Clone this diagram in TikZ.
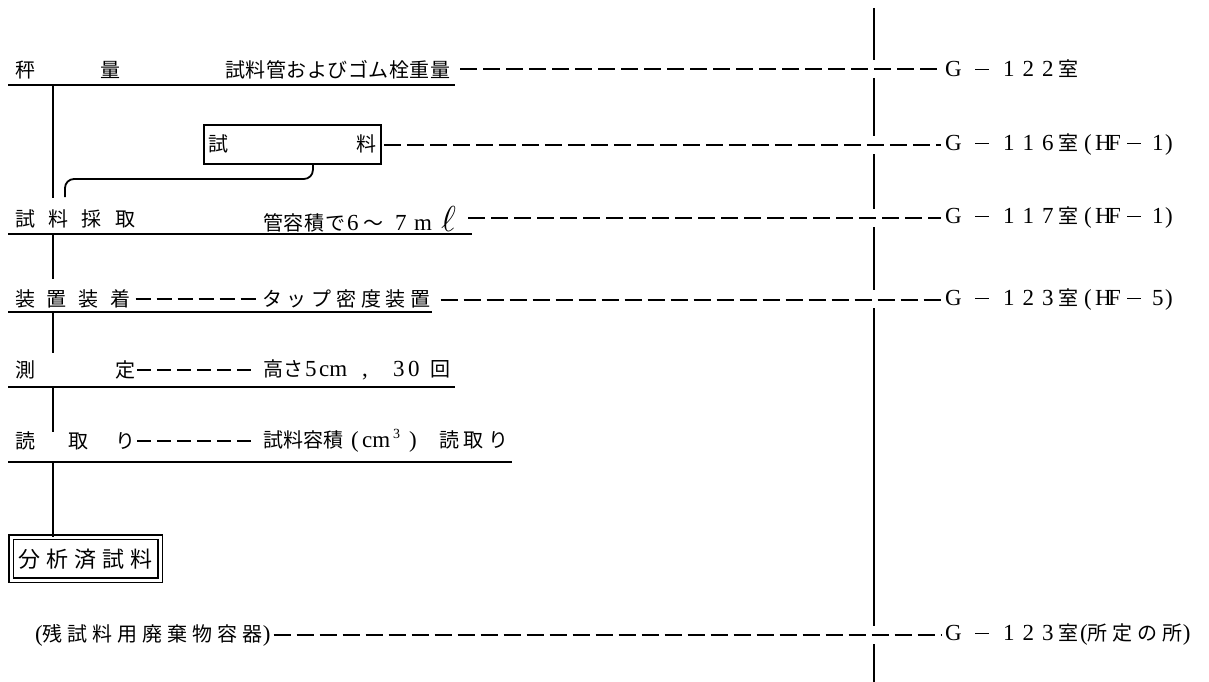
\documentclass[tikz,border=0pt]{standalone}
\usepackage{fontspec}
\usepackage{graphicx}
\setmainfont{Liberation Serif}
\newfontfamily\jp{Noto Sans CJK JP}
\newcommand\cell[2]{\makebox[#1pt][l]{#2}}
\newcommand\lat[1]{{\rmfamily\fontsize{23}{26}\selectfont #1}}
\newcommand\mrule{\rule[6.5pt]{14pt}{1.6pt}}
\makeatletter
\def\spc@loop#1{\ifx#1\relax\else\hspace{\spc@amt}#1\expandafter\spc@loop\fi}
\def\spc@first#1{#1\spc@loop}
\newcommand\spaced[2]{\def\spc@amt{#1}\spc@first#2\relax}
\makeatother
\newcommand\room[3]{\lat{\cell{30}{G}\cell{28}{\mrule}\cell{19.5}{#1}\cell{19.5}{#2}\cell{16}{#3}}室}
\newcommand\hf[1]{\hspace{6pt}\lat{\cell{11}{(}\cell{13}{H}\cell{19}{F}\cell{25}{\mrule}\cell{13}{#1})}}
\tikzset{
  txt/.style={anchor=west, inner sep=0pt, font=\jp\fontsize{20}{24}\selectfont},
  ln/.style={line width=1.8pt},
  dsh/.style={line width=2pt, dash pattern=on 17pt off 6pt},
  thickdsh/.style={line width=2.8pt, dash pattern=on 15pt off 6pt},
  thindsh/.style={line width=1.5pt, dash pattern=on 14pt off 6pt},
}
\begin{document}
\begin{tikzpicture}[x=1pt,y=-1pt]
\useasboundingbox (0,0) rectangle (1209,682);
% row 1
\node[txt] (t1l) at (15,70) {\cell{85}{秤}量};
\node[txt] (t1r) at (225,70) {\spaced{0.5pt}{試料管およびゴム栓重量}};
\node[txt] (r1) at (945,69) {\room{1}{2}{2}};
\draw[ln] (8,85) -- (455,85);
\draw[dsh, shorten <=10pt, shorten >=4pt] (t1r.east |- r1.west) -- (r1.west);
% sample box
\node[draw, line width=1.8pt, minimum width=177pt, minimum height=39pt, inner sep=0pt,
      anchor=north west, font=\jp\fontsize{20}{24}\selectfont] (box1) at (203,124) {\cell{148}{試}料};
\node[txt] (r2) at (945,145) {\room{1}{1}{6}\hf{1}};
\draw[dsh, shorten <=2pt, shorten >=4pt] (box1.east |- r2.west) -- (r2.west);
\coordinate (c1) at ([xshift=20.5pt]box1.south);
\coordinate (c2) at (65,179);
\coordinate (c3) at (65,197);
\draw[ln, rounded corners=9pt] (c1) |- (c2) -- (c3);
% row 2
\node[txt] (t2l) at (15,219) {\spaced{13.3pt}{試料採取}};
\node[txt] (t2r) at (263,219) {\cell{20.5}{管}\cell{20.5}{容}\cell{21}{積}\cell{22}{で}\lat{\cell{16}{6}}\cell{32}{～}\lat{\cell{19}{7}\cell{27}{m}\raisebox{-1pt}{\scalebox{1.45}{$\ell$}}}};
\node[txt] (r3) at (945,218) {\room{1}{1}{7}\hf{1}};
\draw[ln] (8,234) -- (472,234);
\draw[dsh, shorten <=12pt, shorten >=4pt] (t2r.east |- r3.west) -- (r3.west);
% row 3
\node[txt] (t3l) at (15,299) {\spaced{11.7pt}{装置装着}};
\node[txt] (t3r) at (262,299) {\spaced{4.7pt}{タップ密度装置}};
\node[txt] (r4) at (945,300) {\room{1}{2}{3}\hf{5}};
\draw[ln] (8,312) -- (432,312);
\draw[thickdsh, shorten <=5pt, shorten >=4pt] (t3l.east) -- (t3r.west);
\draw[dsh, shorten <=10pt, shorten >=4pt] (t3r.east |- r4.west) -- (r4.west);
% row 4
\node[txt] (t4l) at (15,370) {\cell{100}{測}定};
\node[txt] (t4r) at (263,370) {\cell{20}{高}\cell{22}{さ}\lat{\cell{14}{5}\cell{43}{cm}\cell{31}{,}\cell{15}{3}\cell{22}{0}}回};
\draw[ln] (8,387) -- (455,387);
\draw[thindsh, shorten <=2pt, shorten >=7pt] (t4l.east) -- (t4r.west);
% row 5
\node[txt] (t5l) at (15,441) {\cell{53}{読}\cell{47}{取}り};
\node[txt] (t5r) at (263,441) {\cell{20}{試}\cell{20}{料}\cell{20}{容}\cell{28}{積}\lat{\cell{11}{(}\cell{31}{cm}\cell{16}{\raisebox{9pt}{\fontsize{14}{14}\selectfont 3}}\cell{30}{)}}\cell{24}{読}\cell{25}{取}り};
\draw[ln] (8,462) -- (512,462);
\draw[thindsh, shorten <=2pt, shorten >=7pt] (t5l.east) -- (t5r.west);
% final box
\node[draw, line width=1.6pt, double, double distance=2.5pt, minimum width=149pt, minimum height=43pt,
      inner sep=0pt, anchor=north west, font=\jp\fontsize{22}{24}\selectfont] (box2) at (10.5,536.5) {\spaced{6pt}{分析済試料}};
% row 6
\node[txt] (t6) at (35,635) {\lat{(}\spaced{5pt}{残試料用廃棄物容器}\lat{)}};
\node[txt] (r6) at (945,635) {\room{1}{2}{3}\hspace{2pt}\lat{(}\spaced{5pt}{所定の所}\lat{)}};
\draw[dsh, shorten <=3pt, shorten >=4pt] (t6.east) -- (r6.west);
% left flow line
\coordinate (u1) at (53,85);  \coordinate (v1) at (53,198);
\coordinate (u2) at (53,234); \coordinate (v2) at (53,279);
\coordinate (u3) at (53,312); \coordinate (v3) at (53,353);
\coordinate (u4) at (53,387); \coordinate (v4) at (53,432);
\coordinate (u5) at (53,462);
\draw[ln] (u1) -- (v1);
\draw[ln] (u2) -- (v2);
\draw[ln] (u3) -- (v3);
\draw[ln] (u4) -- (v4);
\draw[ln] (u5) -- (u5 |- box2.north);
% right separator line
\draw[ln] (874,8) -- (874,60);
\draw[ln] (874,78) -- (874,136);
\draw[ln] (874,154) -- (874,209);
\draw[ln] (874,227) -- (874,290);
\draw[ln] (874,308) -- (874,626);
\draw[ln] (874,644) -- (874,682);
\end{tikzpicture}
\end{document}
